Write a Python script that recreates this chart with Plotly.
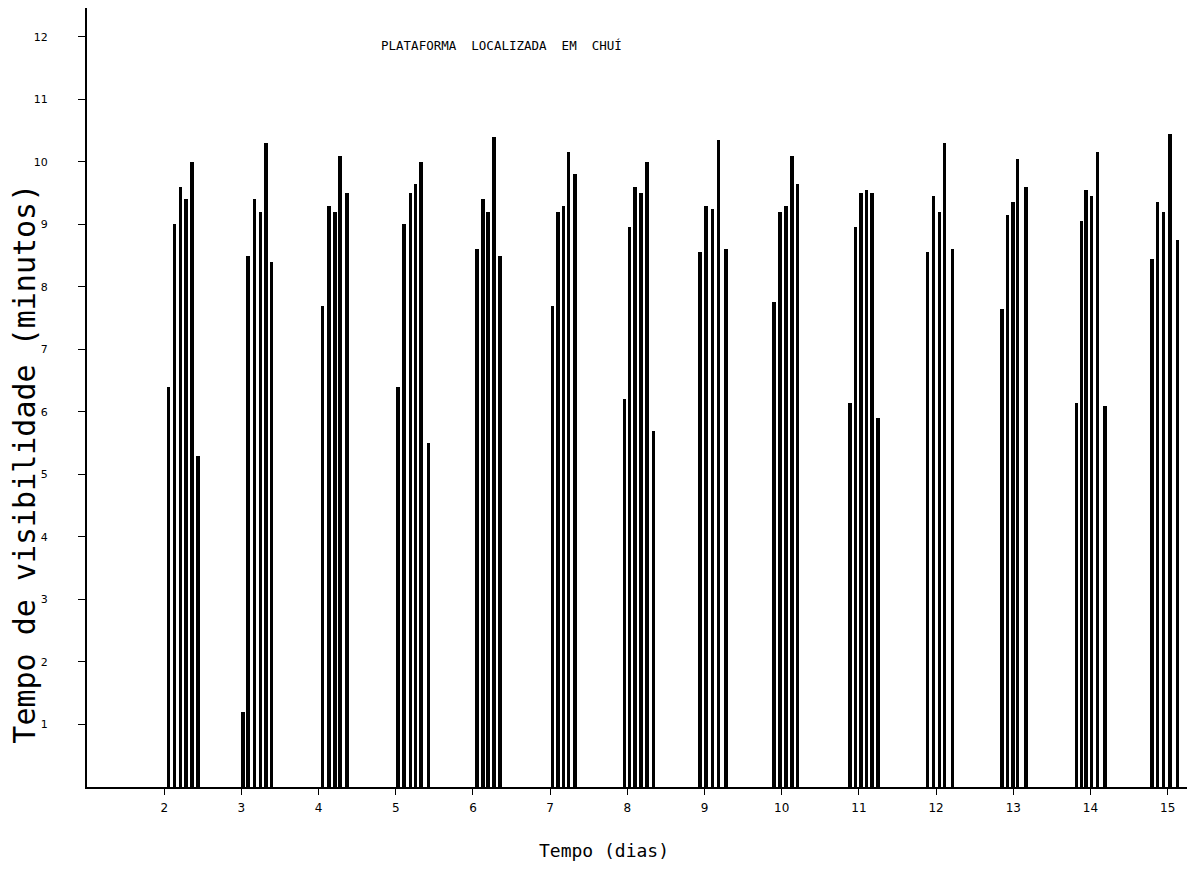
import plotly.graph_objects as go

# Pass times (days) and visibility time (minutes) of each satellite pass, grouped by day
day02_t = [2.056, 2.132, 2.214, 2.282, 2.360, 2.440]
day02_v = [6.4, 9.0, 9.6, 9.4, 10.0, 5.3]
day03_t = [3.019, 3.088, 3.166, 3.244, 3.321, 3.393]
day03_v = [1.2, 8.5, 9.4, 9.2, 10.3, 8.4]
day04_t = [4.053, 4.137, 4.211, 4.280, 4.367]
day04_v = [7.7, 9.3, 9.2, 10.1, 9.5]
day05_t = [5.031, 5.109, 5.190, 5.255, 5.329, 5.426]
day05_v = [6.4, 9.0, 9.5, 9.65, 10.0, 5.5]
day06_t = [6.054, 6.132, 6.197, 6.275, 6.352]
day06_v = [8.6, 9.4, 9.2, 10.4, 8.5]
day07_t = [7.032, 7.104, 7.175, 7.240, 7.324]
day07_v = [7.7, 9.2, 9.3, 10.15, 9.8]
day08_t = [7.963, 8.028, 8.099, 8.177, 8.254, 8.339]
day08_v = [6.2, 8.95, 9.6, 9.5, 10.0, 5.7]
day09_t = [8.943, 9.021, 9.102, 9.180, 9.280]
day09_v = [8.55, 9.3, 9.25, 10.35, 8.6]
day10_t = [9.902, 9.979, 10.057, 10.131, 10.203]
day10_v = [7.75, 9.2, 9.3, 10.1, 9.65]
day11_t = [10.886, 10.957, 11.028, 11.100, 11.171, 11.249]
day11_v = [6.15, 8.95, 9.5, 9.55, 9.5, 5.9]
day12_t = [11.887, 11.965, 12.043, 12.107, 12.211]
day12_v = [8.55, 9.45, 9.2, 10.3, 8.6]
day13_t = [12.851, 12.924, 12.994, 13.058, 13.166]
day13_v = [7.65, 9.15, 9.35, 10.05, 9.6]
day14_t = [13.822, 13.886, 13.943, 14.016, 14.094, 14.189]
day14_v = [6.15, 9.05, 9.55, 9.45, 10.15, 6.1]
day15_t = [14.794, 14.866, 14.944, 15.031, 15.125]
day15_v = [8.45, 9.35, 9.2, 10.45, 8.75]

x_ticks = [2, 3, 4, 5, 6, 7, 8, 9, 10, 11, 12, 13, 14, 15]
y_ticks = [1, 2, 3, 4, 5, 6, 7, 8, 9, 10, 11, 12]

title_text = "PLATAFORMA  LOCALIZADA  EM  CHUÍ"
x_title = "Tempo (dias)"
y_title = "Tempo de visibilidade (minutos)"

groups_t = [day02_t, day03_t, day04_t, day05_t, day06_t, day07_t, day08_t,
            day09_t, day10_t, day11_t, day12_t, day13_t, day14_t, day15_t]
groups_v = [day02_v, day03_v, day04_v, day05_v, day06_v, day07_v, day08_v,
            day09_v, day10_v, day11_v, day12_v, day13_v, day14_v, day15_v]

all_t = [t for g in groups_t for t in g]
all_v = [v for g in groups_v for v in g]

fig = go.Figure()
fig.add_trace(go.Bar(
    x=all_t, y=all_v, width=0.044,
    marker=dict(color="black", line=dict(width=0)),
    showlegend=False, hoverinfo="x+y",
))

mono = "DejaVu Sans Mono"
fig.update_layout(
    width=1189, height=888,
    margin=dict(l=79, r=10, t=0, b=109),
    paper_bgcolor="white", plot_bgcolor="white",
    bargap=0,
    xaxis=dict(
        range=[1, 15.25], tickvals=x_ticks, ticktext=[str(v) for v in x_ticks],
        showline=True, linecolor="black", linewidth=1.5,
        ticks="outside", ticklen=6, tickcolor="black", tickwidth=1.2,
        showgrid=False, zeroline=False,
        tickfont=dict(family="DejaVu Sans", size=12, color="black"),
        ticklabelstandoff=3,
    ),
    yaxis=dict(
        range=[0, 12.46], tickvals=y_ticks, ticktext=[str(v) for v in y_ticks],
        showline=True, linecolor="black", linewidth=2,
        ticks="outside", ticklen=7, tickcolor="black", tickwidth=1.2,
        showgrid=False, zeroline=False,
        tickfont=dict(family="DejaVu Sans", size=11, color="black"),
        ticklabelstandoff=28,
    ),
    annotations=[
        dict(text=title_text, x=0.377, y=0.9525, xref="paper", yref="paper",
             xanchor="center", yanchor="middle",
             showarrow=False, font=dict(family=mono, size=12.5, color="black")),
        dict(text=x_title, x=0.47, y=-0.0809, xref="paper", yref="paper",
             xanchor="center", yanchor="middle",
             showarrow=False, font=dict(family=mono, size=18, color="black")),
        dict(text=y_title, x=-0.0564, y=0.415, xref="paper", yref="paper",
             xanchor="center", yanchor="middle", textangle=-90,
             showarrow=False, font=dict(family=mono, size=30, color="black")),
    ],
)

fig.write_html("out.html")
